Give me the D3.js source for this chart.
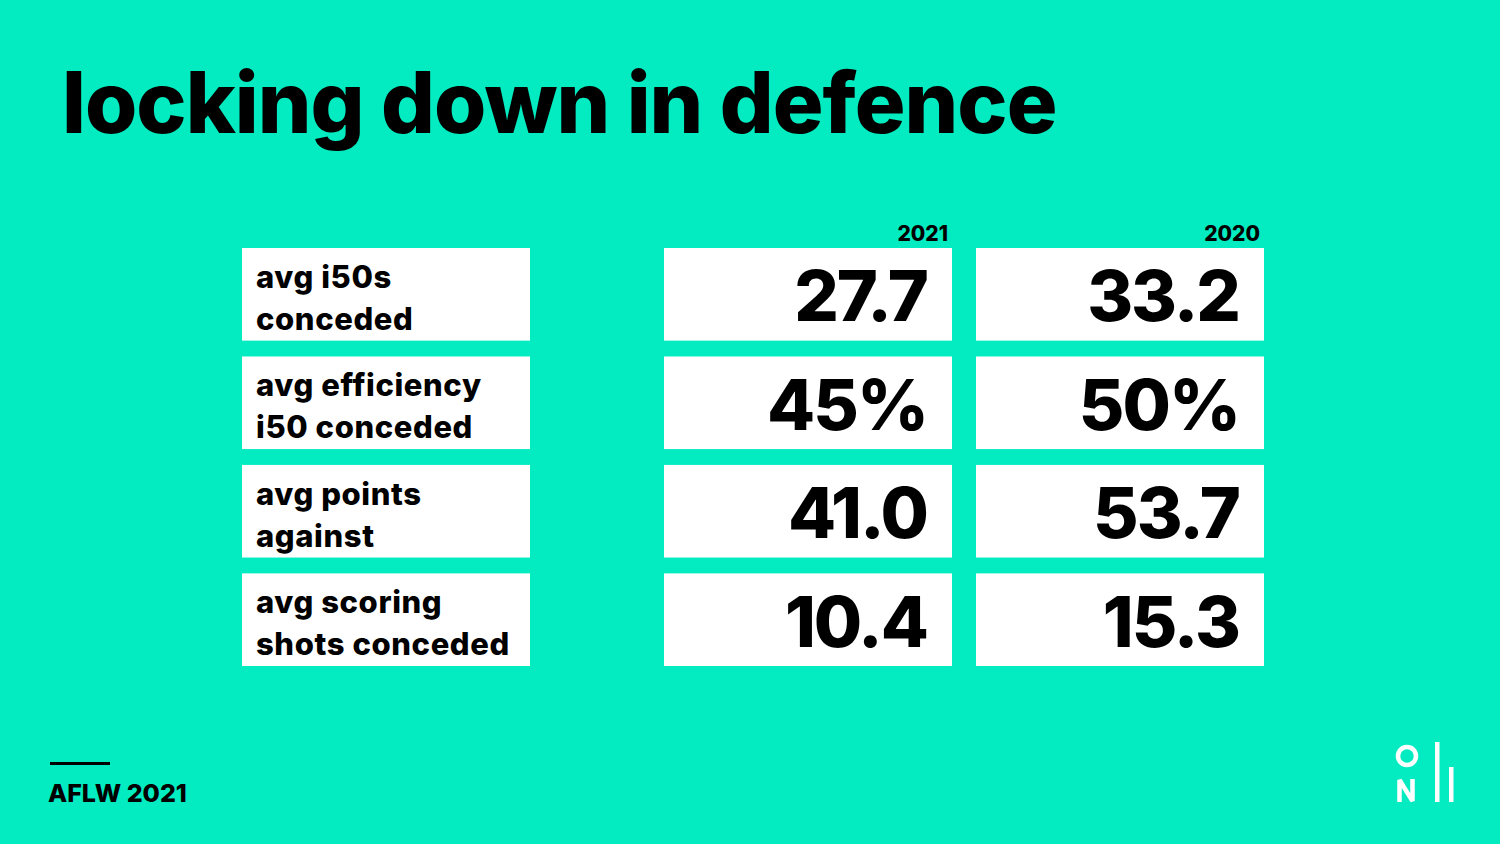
<!DOCTYPE html>
<html>
<head>
<meta charset="utf-8">
<script src="https://cdn.jsdelivr.net/npm/d3@7"></script>
<style>
  html, body { margin: 0; padding: 0; background: #02EBC1; }
  svg { display: block; }
</style>
</head>
<body>
<svg id="chart" width="1500" height="844"></svg>
<script>
const title = "locking down in defence";
const footer = "AFLW 2021";
const metrics = [
  ["avg i50s", "conceded"],
  ["avg efficiency", "i50 conceded"],
  ["avg points", "against"],
  ["avg scoring", "shots conceded"]
];
const years = ["2021", "2020"];
const values2021 = ["27.7", "45%", "41.0", "10.4"];
const values2020 = ["33.2", "50%", "53.7", "15.3"];

const W = 1500, H = 844;
const BG = "#02EBC1";
const FONT = "Inter, 'Open Sans', sans-serif";

const svg = d3.select("#chart");
svg.append("rect").attr("width", W).attr("height", H).attr("fill", BG);

// Title, fitted to reference width
const t = svg.append("text")
  .attr("x", 62).attr("y", 133)
  .attr("font-family", FONT).attr("font-weight", 800)
  .attr("font-size", 86).attr("letter-spacing", -1)
  .attr("fill", "#000").text(title);
const tw = t.node().getComputedTextLength();
t.attr("font-size", 86 * 995 / tw);

// Scales
const y = d3.scaleBand().domain(d3.range(metrics.length)).range([248, 666]).paddingInner(0.146).paddingOuter(0);
const colX = d3.scaleBand().domain(years).range([664, 1264]).paddingInner(0.077);

// Label boxes
const rows = svg.append("g").selectAll("g").data(metrics).join("g")
  .attr("transform", (d, i) => `translate(242,${y(i)})`);
rows.append("rect").attr("width", 288).attr("height", y.bandwidth()).attr("fill", "#fff");
rows.append("text")
  .attr("font-family", FONT).attr("font-weight", 800).attr("font-size", 31)
  .attr("letter-spacing", 0.6)
  .attr("fill", "#000")
  .selectAll("tspan").data(d => d).join("tspan")
  .attr("x", 14).attr("y", (d, j) => 40 + j * 42).text(d => d);

// Year headers
svg.selectAll("text.year").data(years).join("text").attr("class", "year")
  .attr("x", d => colX(d) + colX.bandwidth() - 4).attr("y", 241)
  .attr("text-anchor", "end")
  .attr("font-family", FONT).attr("font-weight", 800).attr("font-size", 21)
  .attr("fill", "#000").text(d => d);

// Value boxes
const series = [values2021, values2020];
years.forEach((yr, k) => {
  const g = svg.append("g").selectAll("g").data(series[k]).join("g")
    .attr("transform", (d, i) => `translate(${colX(yr)},${y(i)})`);
  g.append("rect").attr("width", colX.bandwidth()).attr("height", y.bandwidth()).attr("fill", "#fff");
  g.append("text")
    .attr("x", colX.bandwidth() - 25).attr("y", y.bandwidth() / 2 + 27)
    .attr("text-anchor", "end")
    .attr("font-family", FONT).attr("font-weight", 800).attr("font-size", 70)
    .attr("letter-spacing", -2)
    .attr("fill", "#000").text(d => d);
});

// Footer
svg.append("rect").attr("x", 50).attr("y", 762).attr("width", 60).attr("height", 3).attr("fill", "#000");
svg.append("text").attr("x", 48).attr("y", 802)
  .attr("font-family", FONT).attr("font-weight", 800).attr("font-size", 25)
  .attr("fill", "#000").text(footer);

// Logo
const logo = svg.append("g");
logo.append("circle").attr("cx", 1407).attr("cy", 756).attr("r", 9)
  .attr("fill", "none").attr("stroke", "#fff").attr("stroke-width", 4.5);
logo.append("path").attr("d", "M1399.5,802 V780 L1412.5,801 V779")
  .attr("fill", "none").attr("stroke", "#fff").attr("stroke-width", 4.5)
  .attr("stroke-linejoin", "miter").attr("stroke-miterlimit", 2);
logo.append("rect").attr("x", 1435).attr("y", 742).attr("width", 4.5).attr("height", 60).attr("fill", "#fff");
logo.append("rect").attr("x", 1449).attr("y", 767).attr("width", 4.5).attr("height", 35).attr("fill", "#fff");
</script>
</body>
</html>
